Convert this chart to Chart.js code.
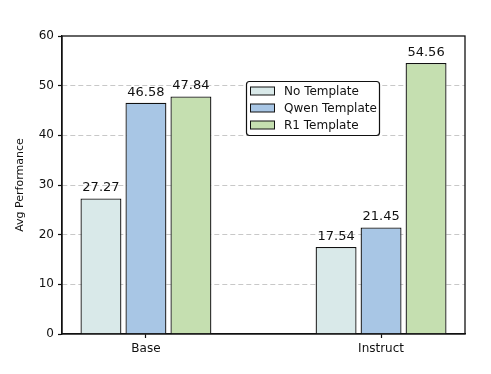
<!DOCTYPE html>
<html>
<head>
<meta charset="utf-8">
<script src="https://cdn.jsdelivr.net/npm/chart.js@4"></script>
<style>
  html, body { margin: 0; padding: 0; background: #fff; }
  #wrap { width: 491px; height: 374px; }
</style>
</head>
<body>
<div id="wrap"><canvas id="chart" width="491" height="374"></canvas></div>
<script>
// データ
const categories = ['Base', 'Instruct'];
const seriesNames = ['No Template', 'Qwen Template', 'R1 Template'];
const noTemplate = [27.27, 17.54];
const qwenTemplate = [46.58, 21.45];
const r1Template = [47.84, 54.56];
const yTicks = [0, 10, 20, 30, 40, 50, 60];
const fillColors = ['#d9e9e9', '#a8c6e5', '#c5dfb0'];

const FONT = '"DejaVu Sans", sans-serif';
const toPoints = vals => vals.map((v, i) => ({ x: i, y: v }));
const allSeries = [noTemplate, qwenTemplate, r1Template];

// 数値ラベル・枠線・凡例
const decorations = {
    id: 'decorations',
    afterDatasetsDraw(chart) {
        const ctx = chart.ctx;
        ctx.save();
        ctx.font = '13px ' + FONT;
        ctx.fillStyle = '#111';
        ctx.textAlign = 'center';
        ctx.textBaseline = 'bottom';
        chart.data.datasets.forEach((ds, di) => {
            chart.getDatasetMeta(di).data.forEach((bar, i) => {
                ctx.fillText(allSeries[di][i].toFixed(2), bar.x, bar.y - 4);
            });
        });
        ctx.restore();
    },
    afterDraw(chart) {
        const ctx = chart.ctx;
        const a = chart.chartArea;
        ctx.save();
        ctx.strokeStyle = '#111';
        ctx.lineWidth = 1.3;
        ctx.strokeRect(a.left, a.top, a.right - a.left, a.bottom - a.top);

        // 凡例
        const lx = 246, ly = 81, lw = 133, lh = 54;
        ctx.beginPath();
        ctx.roundRect(lx + 0.5, ly + 0.5, lw, lh, 3);
        ctx.fillStyle = '#fff';
        ctx.fill();
        ctx.lineWidth = 1.2;
        ctx.strokeStyle = '#111';
        ctx.stroke();
        ctx.font = '12px ' + FONT;
        ctx.textAlign = 'left';
        ctx.textBaseline = 'middle';
        seriesNames.forEach((name, i) => {
            const cy = ly + 10 + i * 17;
            ctx.fillStyle = fillColors[i];
            ctx.fillRect(lx + 4.5, cy - 4, 24, 8);
            ctx.lineWidth = 1;
            ctx.strokeStyle = '#111';
            ctx.strokeRect(lx + 4.5, cy - 4, 24, 8);
            ctx.fillStyle = '#111';
            ctx.fillText(name, lx + 38, cy + 0.5);
        });
        ctx.restore();
    }
};

new Chart(document.getElementById('chart').getContext('2d'), {
    type: 'bar',
    data: {
        datasets: allSeries.map((vals, i) => ({
            label: seriesNames[i],
            data: toPoints(vals),
            backgroundColor: fillColors[i],
            borderColor: '#111',
            borderWidth: 1.3,
            categoryPercentage: 0.574,
            barPercentage: 0.91
        }))
    },
    options: {
        responsive: false,
        animation: false,
        layout: { padding: { top: 36, right: 26, left: 14, bottom: 0 } },
        plugins: { legend: { display: false }, tooltip: { enabled: false } },
        scales: {
            x: {
                type: 'linear',
                offset: false,
                min: -0.357,
                max: 1.357,
                afterBuildTicks: s => { s.ticks = categories.map((c, i) => ({ value: i })); },
                afterFit: s => { s.height = 40; },
                ticks: {
                    color: '#111',
                    font: { family: FONT, size: 12 },
                    padding: 4,
                    callback: v => categories[v]
                },
                grid: { display: true, offset: false, drawOnChartArea: false, drawTicks: true, tickLength: 4, color: '#111', tickWidth: 1.2 },
                border: { display: true, color: '#111', width: 1.3 }
            },
            y: {
                min: 0,
                max: 60,
                afterBuildTicks: s => { s.ticks = yTicks.map(v => ({ value: v })); },
                afterFit: s => { s.width = 48; },
                ticks: {
                    color: '#111',
                    font: { family: FONT, size: 12 },
                    padding: 4
                },
                grid: {
                    color: ctx => (ctx.tick && (ctx.tick.value === 0 || ctx.tick.value === 60)) ? 'rgba(0,0,0,0)' : '#c8c8c8',
                    lineWidth: 1,
                    tickLength: 4,
                    tickColor: '#111',
                    tickWidth: 1.2,
                    tickBorderDash: []
                },
                border: { display: true, color: '#111', width: 1.3, dash: [5, 3] },
                title: {
                    display: true,
                    text: 'Avg Performance',
                    color: '#111',
                    font: { family: FONT, size: 11 },
                    padding: { top: 0, bottom: 4 }
                }
            }
        }
    },
    plugins: [decorations]
});
</script>
</body>
</html>
